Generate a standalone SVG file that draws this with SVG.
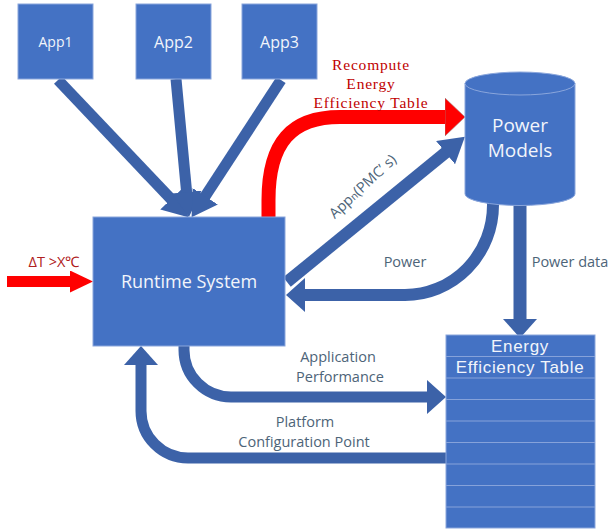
<svg xmlns="http://www.w3.org/2000/svg" width="615" height="529" viewBox="0 0 615 529">
<defs>
<style>
.box{fill:#4472c4;stroke:#8aa6dc;stroke-width:1}
.wt{fill:#f2f5fb;font-family:"Open Sans","Liberation Sans",sans-serif;text-anchor:middle}
.et{fill:#f2f5fb;font-family:"Liberation Sans",sans-serif;text-anchor:middle;font-size:17px;letter-spacing:0.7px}
.lbl{fill:#4d6478;font-family:"Open Sans","Liberation Sans",sans-serif;text-anchor:middle;font-size:14.5px}
.rt{fill:#c00000;font-family:"Liberation Serif",serif;font-size:15.5px;text-anchor:middle;letter-spacing:0.8px}
.blue{fill:none;stroke:#3c62a8}
.red{fill:none;stroke:#ff0000}
.row{stroke:#86a2da;stroke-width:1}
</style>
<marker id="hb" viewBox="0 -15 25 30" markerWidth="25" markerHeight="30" refX="1" refY="0" orient="auto" markerUnits="userSpaceOnUse"><path d="M0,-15 L25,0 L0,15 Z" fill="#3c62a8"/></marker>
<marker id="hb2" viewBox="0 -17 19 34" markerWidth="19" markerHeight="34" refX="1" refY="0" orient="auto" markerUnits="userSpaceOnUse"><path d="M0,-17 L19,0 L0,17 Z" fill="#3c62a8"/></marker>
<marker id="hr" viewBox="0 -19 20 38" markerWidth="20" markerHeight="38" refX="1" refY="0" orient="auto" markerUnits="userSpaceOnUse"><path d="M0,-19 L20,0 L0,19 Z" fill="#ff0000" stroke="#9a8a8a" stroke-width="0.6"/></marker>
<marker id="hr2" viewBox="0 -11 23 22" markerWidth="23" markerHeight="22" refX="1" refY="0" orient="auto" markerUnits="userSpaceOnUse"><path d="M0,-11 L23,0 L0,11 Z" fill="#ff0000"/></marker>
</defs>

<g id="connectors">
<line class="blue" stroke-width="11" x1="58" y1="80" x2="171.8" y2="199.9" marker-end="url(#hb)"/>
<line class="blue" stroke-width="11" x1="176" y1="79" x2="186.7" y2="193.1" marker-end="url(#hb)"/>
<line class="blue" stroke-width="11" x1="281" y1="80" x2="204.7" y2="197.1" marker-end="url(#hb)"/>
<path class="red" stroke-width="14" d="M268.5,218 V200 C268.5,142 292,117 340,117 H446" marker-end="url(#hr)"/>
<line class="blue" stroke-width="12" x1="287" y1="282" x2="446.3" y2="152" marker-end="url(#hb)"/>
<path class="blue" stroke-width="12" d="M493,198 V205 A88,90 0 0 1 405,295 H304" marker-end="url(#hb2)"/>
<path class="blue" stroke-width="13" d="M520,198 V320" marker-end="url(#hb2)"/>
<path class="blue" stroke-width="11" d="M184,345 V350 A47,47 0 0 0 231,397 H428" marker-end="url(#hb2)"/>
<path class="blue" stroke-width="11" d="M447,458 H188 A47,47 0 0 1 141,411 V364" marker-end="url(#hb2)"/>
<path class="red" stroke-width="11" d="M7,281.5 H71" marker-end="url(#hr2)"/>
</g>

<g id="app1"><rect class="box" x="18" y="4" width="75" height="75"/><text class="wt" x="55.5" y="47" font-size="14">App1</text></g>
<g id="app2"><rect class="box" x="136" y="4" width="75" height="75"/><text class="wt" x="173.5" y="48" font-size="16">App2</text></g>
<g id="app3"><rect class="box" x="242" y="4" width="75" height="75"/><text class="wt" x="279.5" y="48" font-size="16">App3</text></g>

<g id="runtime"><rect class="box" x="93" y="217" width="192" height="129"/><text class="wt" x="189" y="288" font-size="18">Runtime System</text></g>

<g id="power-models">
<path d="M465,83.5 V194 A55,11.5 0 0 0 575,194 V83.5 Z" fill="#4472c4" stroke="#8aa6dc" stroke-width="1"/>
<ellipse cx="520" cy="83.5" rx="55" ry="11.5" fill="#4472c4" stroke="#8aa6dc" stroke-width="1"/>
<text class="wt" x="520" y="132" font-size="19">Power</text>
<text class="wt" x="520" y="157" font-size="19">Models</text>
</g>

<g id="energy-table">
<rect class="box" x="446" y="335" width="149" height="193"/>
<line class="row" x1="446" y1="356.5" x2="595" y2="356.5"/>
<line class="row" x1="446" y1="378" x2="595" y2="378"/>
<line class="row" x1="446" y1="399.5" x2="595" y2="399.5"/>
<line class="row" x1="446" y1="421" x2="595" y2="421"/>
<line class="row" x1="446" y1="442.5" x2="595" y2="442.5"/>
<line class="row" x1="446" y1="464" x2="595" y2="464"/>
<line class="row" x1="446" y1="485.5" x2="595" y2="485.5"/>
<line class="row" x1="446" y1="507" x2="595" y2="507"/>
<text class="et" x="520" y="352">Energy</text>
<text class="et" x="520" y="373">Efficiency Table</text>
</g>

<g id="labels">
<text class="rt" x="371" y="70">Recompute</text>
<text class="rt" x="371" y="89">Energy</text>
<text class="rt" x="371" y="108">Efficiency Table</text>
<text class="lbl" transform="translate(366,190) rotate(-43)" font-size="14">App<tspan font-size="10">n</tspan>(PMC’ s)</text>
<text class="lbl" x="405" y="267" font-size="17.5">Power</text>
<text class="lbl" x="570" y="267" font-size="17.5">Power data</text>
<text class="lbl" x="338" y="362">Application</text>
<text class="lbl" x="340" y="382">Performance</text>
<text class="lbl" x="305" y="427">Platform</text>
<text class="lbl" x="304" y="447">Configuration Point</text>
<text x="54" y="267" fill="#b02020" font-family="'Open Sans','Liberation Sans',sans-serif" font-size="14.5" text-anchor="middle">ΔT &gt;X℃</text>
</g>
</svg>
